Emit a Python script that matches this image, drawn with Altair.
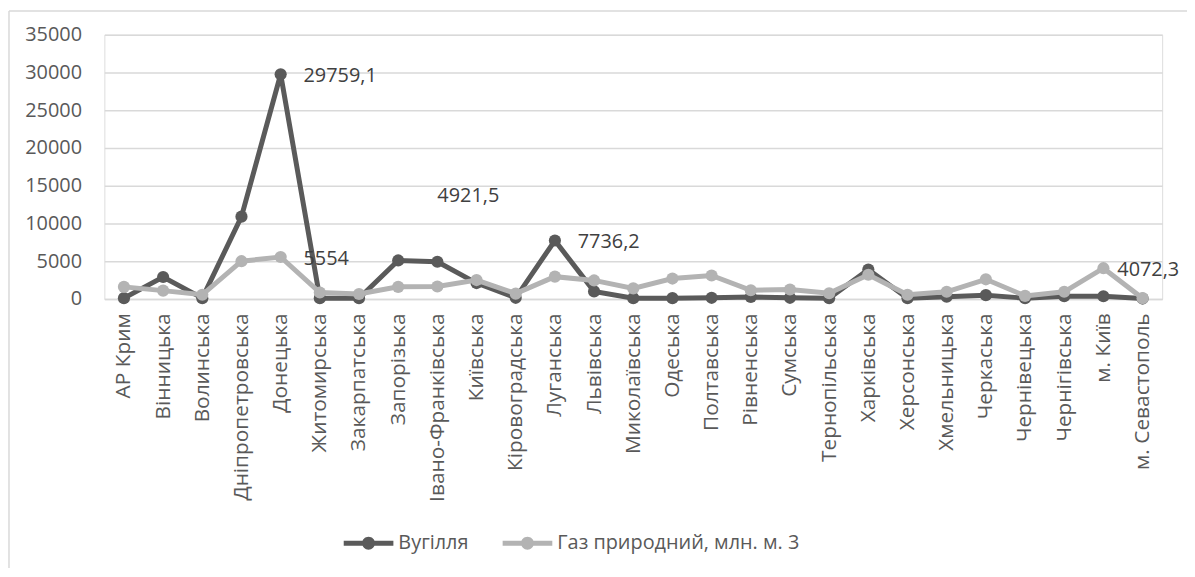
import altair as alt
import pandas as pd

regions = ["АР Крим", "Вінницька", "Волинська", "Дніпропетровська", "Донецька",
           "Житомирська", "Закарпатська", "Запорізька", "Івано-Франківська", "Київська",
           "Кіровоградська", "Луганська", "Львівська", "Миколаївська", "Одеська",
           "Полтавська", "Рівненська", "Сумська", "Тернопільська", "Харківська",
           "Херсонська", "Хмельницька", "Черкаська", "Чернівецька", "Чернігівська",
           "м. Київ", "м. Севастополь"]

coal = [100, 2900, 100, 10900, 29759.1, 100, 100, 5100, 4921.5, 2100,
        150, 7736.2, 1000, 100, 100, 150, 250, 150, 100, 3900,
        100, 300, 500, 100, 350, 350, 50]

gas = [1600, 1100, 550, 5000, 5554, 850, 650, 1600, 1650, 2500,
       700, 2950, 2450, 1400, 2700, 3100, 1150, 1250, 750, 3200,
       550, 950, 2600, 400, 950, 4072.3, 100]

series_names = ["Вугілля", "Газ природний, млн. м. 3"]
series_colors = ["#5a5a5a", "#b3b3b3"]
y_ticks = [0, 5000, 10000, 15000, 20000, 25000, 30000, 35000]

# labelled points: (series, region)
labels_right = [("Вугілля", "Донецька"), ("Газ природний, млн. м. 3", "Донецька"),
                ("Вугілля", "Луганська")]
labels_right_near = [("Газ природний, млн. м. 3", "м. Київ")]
labels_above = [("Вугілля", "Івано-Франківська")]

rows = []
for s, vals in zip(series_names, [coal, gas]):
    for r, v in zip(regions, vals):
        rows.append({"region": r, "series": s, "value": v})
df = pd.DataFrame(rows)


def fmt(v):
    if float(v).is_integer():
        return str(int(v))
    return str(v).replace(".", ",")


def label_df(pairs):
    out = []
    for s, r in pairs:
        v = df[(df.series == s) & (df.region == r)].value.iloc[0]
        out.append({"region": r, "series": s, "value": v, "text": fmt(v)})
    return pd.DataFrame(out)


FONT = "Open Sans"
TXT = "#595959"
GRID = "#d9d9d9"

x_enc = alt.X("region:N", sort=regions,
              scale=alt.Scale(type="point", padding=0.5),
              axis=alt.Axis(title=None, labelAngle=-90, labelPadding=14, ticks=False,
                            domainColor=GRID, domainWidth=1.5, labelFontSize=21,
                            labelLimit=0, labelColor=TXT, labelFont=FONT, grid=False))
y_enc = alt.Y("value:Q", scale=alt.Scale(domain=[0, 35000], nice=False),
              axis=alt.Axis(title=None, values=y_ticks, format="d", domain=False, ticks=False,
                            labelPadding=23, gridColor=GRID, gridWidth=1.5,
                            labelFontSize=20, labelColor=TXT, labelFont=FONT))
color_enc = alt.Color("series:N",
                      scale=alt.Scale(domain=series_names, range=series_colors),
                      legend=alt.Legend(
                          title=None, orient="none", direction="horizontal",
                          legendX=241, legendY=487, padding=0,
                          symbolType="M-1,-0.1L1,-0.1L1,0.1L-1,0.1Z M-0.26,0A0.26,0.26 0 1,1 0.26,0A0.26,0.26 0 1,1 -0.26,0Z",
                          symbolSize=2500, symbolStrokeWidth=0, symbolOpacity=1,
                          labelOffset=5, columnPadding=34, labelLimit=0,
                          labelFontSize=20, labelColor=TXT, labelFont=FONT))

base = alt.Chart(df)
layers = []
for s, c in zip(series_names, series_colors):
    sub = base.transform_filter(alt.datum.series == s)
    layers.append(sub.mark_line(strokeWidth=5, color=c).encode(x=x_enc, y=y_enc))
    layers.append(sub.mark_point(filled=True, size=150, opacity=1).encode(
        x=x_enc, y=y_enc, color=color_enc))

text_style = dict(font=FONT, fontSize=20, color="#404040", baseline="middle", align="left")
layers.append(alt.Chart(label_df(labels_right)).mark_text(dx=23, dy=2, **text_style)
              .encode(x=x_enc, y=y_enc, text="text:N"))
layers.append(alt.Chart(label_df(labels_right_near)).mark_text(dx=14, dy=2, **text_style)
              .encode(x=x_enc, y=y_enc, text="text:N"))
layers.append(alt.Chart(label_df(labels_above)).mark_text(dx=0, dy=-66, **text_style)
              .encode(x=x_enc, y=y_enc, text="text:N"))

# chart-area frame (left and top edges)
layers.append(alt.Chart(df.head(1)).mark_rule(color=GRID, strokeWidth=1.5).encode(
    x=alt.value(-96), y=alt.value(-24), y2=alt.value(560)))
layers.append(alt.Chart(df.head(1)).mark_rule(color=GRID, strokeWidth=1.5).encode(
    x=alt.value(-96), x2=alt.value(1090), y=alt.value(-24)))

chart = alt.layer(*layers).properties(
    width=1065, height=266,
    autosize=alt.AutoSizeParams(type="none"),
    padding={"left": 97, "top": 25, "right": 25, "bottom": 269},
).configure_view(stroke=None).configure(font=FONT)

chart.save("out.html", embed_options={"renderer": "svg", "actions": False})
